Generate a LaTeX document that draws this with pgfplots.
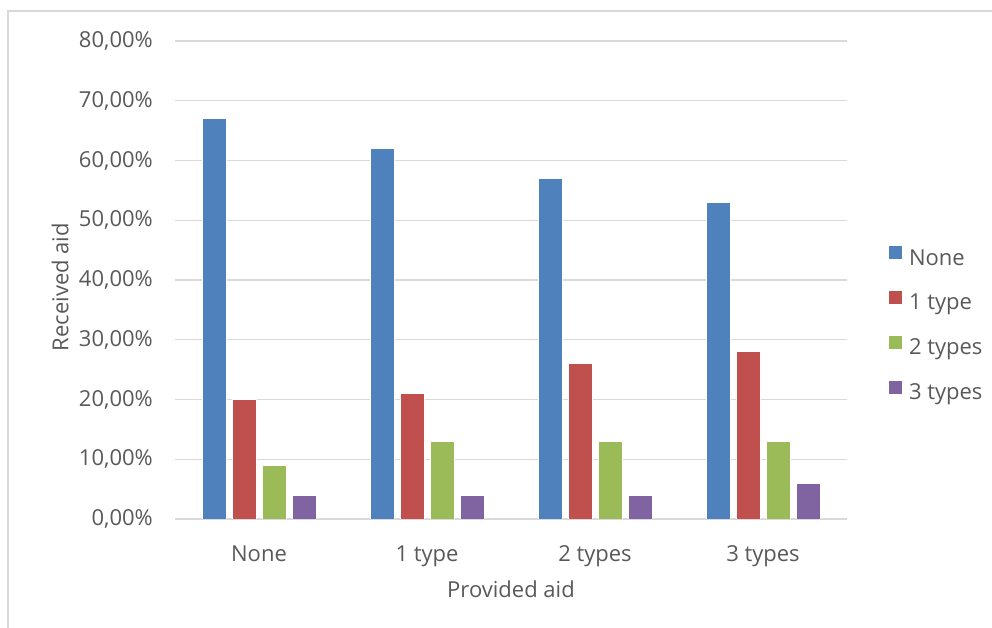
\documentclass[border=0pt]{standalone}
\usepackage{pgfplots}
\pgfplotsset{compat=1.18}
\usepackage{fontspec}
\setmainfont{Open Sans}
\definecolor{txt}{HTML}{595959}
\definecolor{gridc}{HTML}{D9D9D9}
\definecolor{c1}{HTML}{4F81BD}
\definecolor{c2}{HTML}{C0504D}
\definecolor{c3}{HTML}{9BBB59}
\definecolor{c4}{HTML}{8064A2}
\begin{document}
\begin{tikzpicture}
\useasboundingbox (0pt,0pt) rectangle (992pt,628pt);
\draw[gridc, line width=1.5pt] (8pt,0pt) -- (8pt,617pt) -- (992pt,617pt);
\begin{axis}[
  at={(175pt,109pt)}, anchor=south west,
  scale only axis, width=672pt, height=478pt,
  font=\fontsize{22}{26}\selectfont,
  ybar=6pt, bar width=24pt,
  xmin=-0.5, xmax=3.5, ymin=0, ymax=80,
  xtick={0,1,2,3}, xticklabels={None,1 type,2 types,3 types},
  ytick={0,10,20,30,40,50,60,70,80},
  yticklabels={{0,00\%},{10,00\%},{20,00\%},{30,00\%},{40,00\%},{50,00\%},{60,00\%},{70,00\%},{80,00\%}},
  axis x line*=bottom, axis y line*=left,
  y axis line style={draw=none},
  x axis line style={gridc, line width=1.5pt},
  tick style={draw=none},
  ymajorgrids, major grid style={gridc, line width=1.2pt},
  yticklabel style={anchor=east, inner sep=0pt, xshift=-22pt, text=txt},
  xticklabel style={anchor=base, inner sep=0pt, yshift=-38pt, text=txt},
  every axis y label/.style={at={(axis description cs:-0.1711,0.485)}, rotate=90, anchor=center, text=txt},
  every axis x label/.style={at={(axis description cs:0.5,-0.1632)}, anchor=base, text=txt},
  xlabel={Provided aid}, ylabel={Received aid},
  legend style={at={(axis description cs:1.061,0.573)}, anchor=north west,
    draw=none, fill=none, inner sep=0pt, row sep=20pt, column sep=6pt,
    nodes={inner sep=0pt, text height=15pt, text depth=5pt, text=txt}},
  legend cell align=left,
  legend image code/.code={\fill[#1] (0pt,0.4pt) rectangle (14pt,14.4pt);},
]
\addplot[fill=c1, draw=white, line width=0.8pt] coordinates {(0,67) (1,62) (2,57) (3,53)};
\addplot[fill=c2, draw=white, line width=0.8pt] coordinates {(0,20) (1,21) (2,26) (3,28)};
\addplot[fill=c3, draw=white, line width=0.8pt] coordinates {(0,9) (1,13) (2,13) (3,13)};
\addplot[fill=c4, draw=white, line width=0.8pt] coordinates {(0,4) (1,4) (2,4) (3,6)};
\legend{None,1 type,2 types,3 types}
\end{axis}
\end{tikzpicture}
\end{document}
